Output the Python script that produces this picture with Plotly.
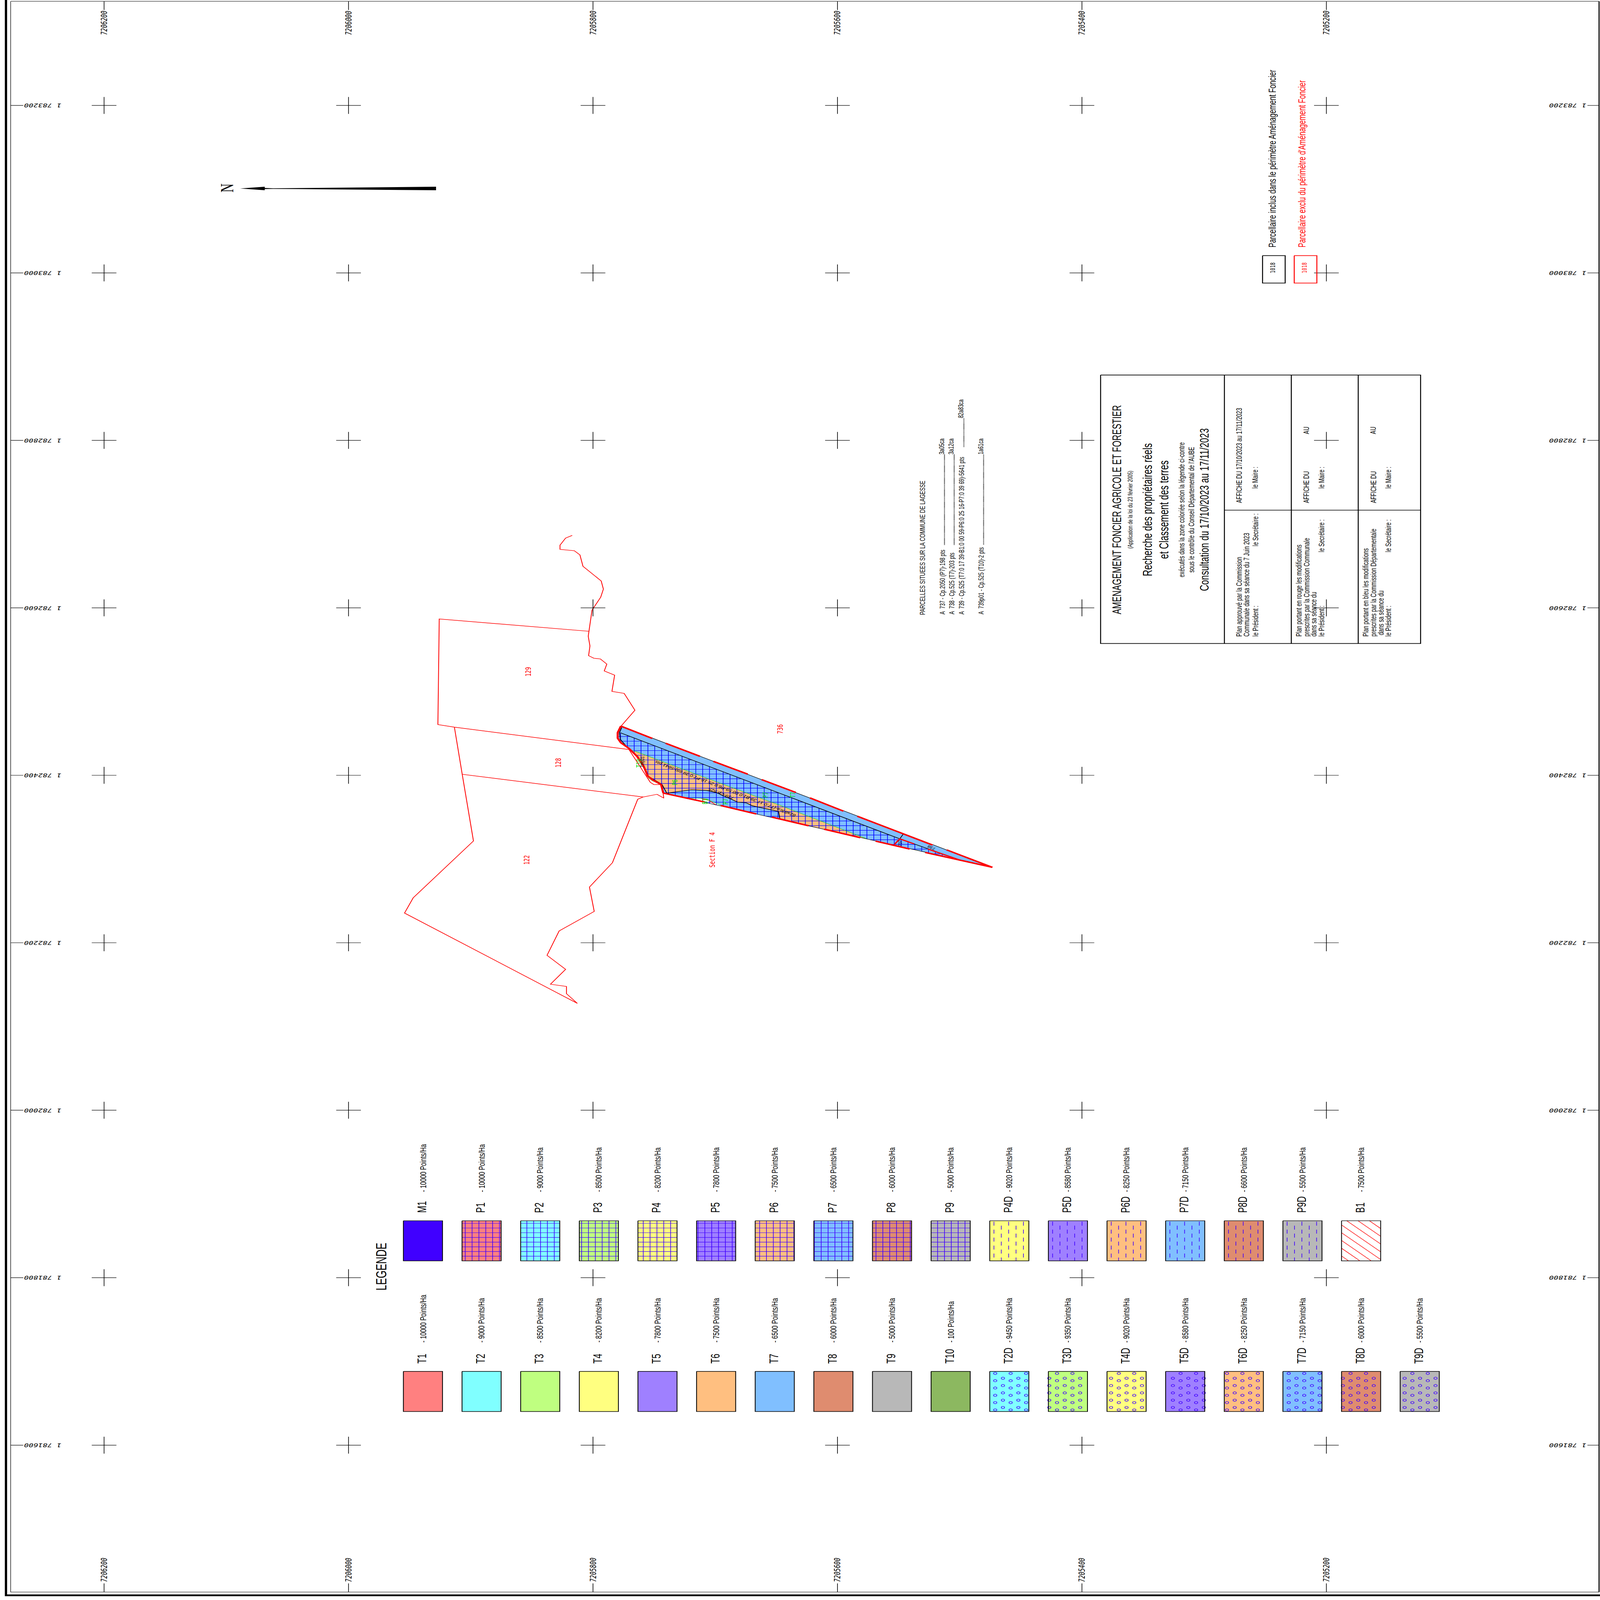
import plotly.graph_objects as go

# ---------------- survey grid (Lambert metres) ----------------
GRID_N = [7206200, 7206000, 7205800, 7205600, 7205400, 7205200]
GRID_E = [1783200, 1783000, 1782800, 1782600, 1782400, 1782200, 1782000, 1781800, 1781600]

# ---------------- parcels, read from the plan (northing / easting, metres) ----------------
RIVER_N = [7205817.0, 7205822.4, 7205827.0, 7205827.0, 7205815.3, 7205810.7, 7205808.2, 7205793.3, 7205791.5,
           7205793.7, 7205800.8, 7205803.2, 7205803.9, 7205802.5, 7205803.6, 7205799.3, 7205794.0, 7205788.7,
           7205790.8, 7205782.3, 7205784.5, 7205774.5, 7205765.7, 7205777.4]
RIVER_E = [1782686.5, 1782683.3, 1782674.8, 1782669.8, 1782668.2, 1782663.2, 1782649.6, 1782632.1, 1782622.4,
           1782612.7, 1782597.2, 1782572.0, 1782566.1, 1782554.5, 1782542.9, 1782539.8, 1782539.0, 1782532.8,
           1782524.6, 1782519.6, 1782500.2, 1782497.8, 1782477.7, 1782458.2]
P129_N = [7205803.2, 7205925.8, 7205926.9, 7205913.4, 7205770.6]
P129_E = [1782572.0, 1782586.7, 1782460.6, 1782457.5, 1782430.8]
P128_N = [7205913.4, 7205907.0, 7205759.0]
P128_E = [1782457.5, 1782401.2, 1782374.1]
P122_N = [7205907.0, 7205897.8, 7205947.1, 7205954.2, 7205812.8, 7205821.7, 7205821.7, 7205834.8, 7205822.4,
          7205837.6, 7205827.7, 7205799.0, 7205802.9, 7205784.1, 7205763.4, 7205759.0, 7205747.6, 7205742.1,
          7205742.7]
P122_E = [1782401.2, 1782321.6, 1782253.7, 1782235.5, 1782127.6, 1782139.2, 1782147.8, 1782150.5, 1782168.3,
          1782185.0, 1782214.1, 1782237.4, 1782266.5, 1782295.6, 1782371.4, 1782374.1, 1782377.3, 1782372.7,
          1782378.8]
BANK_N = [7205770.6, 7205756.3, 7205753.1, 7205750.2, 7205743.6]
BANK_E = [1782430.8, 1782398.4, 1782391.6, 1782388.9, 1782388.9]

WEST_N = [7205777.2, 7205779.8, 7205779.8, 7205777.2, 7205770.6, 7205764.0, 7205758.5, 7205755.2, 7205750.9,
          7205744.3, 7205742.5]
WEST_E = [1782458.7, 1782451.0, 1782444.3, 1782438.9, 1782432.1, 1782422.7, 1782410.5, 1782399.1, 1782394.3,
          1782388.9, 1782378.8]
TIP_N = [7205473.3, 7205500.7]
TIP_E = [1782290.1, 1782299.2]

# thick red runs along the north and south edges of the parcel (pairs: start, end)
RED_NORTH_N = [7205777.2, 7205751.5, 7205740.5, 7205712.5, 7205701.5, 7205673.4, 7205662.0, 7205634.1, 7205622.5,
               7205595.1, 7205583.7, 7205522.2, 7205510.6, 7205473.3]
RED_NORTH_E = [1782458.7, 1782444.0, 1782438.2, 1782422.7, 1782416.6, 1782401.4, 1782394.8, 1782379.5, 1782373.0,
               1782357.2, 1782351.1, 1782316.7, 1782310.9, 1782290.1]
RED_SOUTH_N = [7205742.5, 7205708.5, 7205695.6, 7205666.4, 7205653.7, 7205623.6, 7205610.9, 7205581.3, 7205568.8,
               7205540.9, 7205528.2, 7205473.3]
RED_SOUTH_E = [1782378.8, 1782368.0, 1782364.0, 1782353.8, 1782350.1, 1782339.7, 1782335.6, 1782325.5, 1782321.4,
               1782312.0, 1782307.9, 1782290.1]
RED_737_N = [7205553.4, 7205549.0, 7205537.4]
RED_737_E = [1782317.4, 1782324.1, 1782318.1]
RED_738_N = [7205526.0, 7205500.7]
RED_738_E = [1782312.0, 1782299.2]

INNER_N = [7205777.6, 7205549.0, 7205500.7]
INNER_E = [1782450.8, 1782324.1, 1782299.2]
DIV_N = [7205549.0, 7205546.2]
DIV_E = [1782324.1, 1782329.8]
INWEST_N = [7205776.5, 7205778.3, 7205777.6, 7205772.8, 7205763.4, 7205758.1, 7205754.6, 7205743.6, 7205739.7]
INWEST_E = [1782457.1, 1782451.0, 1782442.9, 1782434.8, 1782422.7, 1782410.5, 1782398.7, 1782389.2, 1782378.8]

P6_N = [7205767.3, 7205715.8, 7205645.5, 7205576.4, 7205580.8, 7205623.6, 7205647.1, 7205648.2, 7205669.7, 7205674.7,
        7205681.7, 7205699.3, 7205707.0, 7205719.5, 7205739.2, 7205742.1, 7205743.6, 7205754.6, 7205758.1, 7205763.4]
P6_E = [1782429.7, 1782401.4, 1782363.3, 1782324.4, 1782325.5, 1782339.7, 1782347.8, 1782356.8, 1782363.6, 1782367.1,
        1782368.0, 1782379.5, 1782381.9, 1782382.7, 1782378.8, 1782384.9, 1782389.2, 1782398.7, 1782410.5, 1782422.7]
P6_LOW_N = P6_N[6:15]
P6_LOW_E = P6_E[6:15]
T10_N = [7205754.6, 7205743.6, 7205744.1, 7205751.5, 7205755.2]
T10_E = [1782398.7, 1782389.2, 1782388.7, 1782393.0, 1782397.0]
B1_N = [7205719.5, 7205708.1, 7205694.9, 7205708.5, 7205719.5]
B1_E = [1782372.7, 1782372.1, 1782364.0, 1782368.0, 1782371.3]
GREEN_N = [7205767.3, 7205715.8, 7205645.5, 7205576.4]
GREEN_E = [1782429.7, 1782401.4, 1782363.3, 1782324.4]
GREEN_B1_N = [7205719.5, 7205708.1, 7205694.9]
GREEN_B1_E = [1782372.7, 1782372.1, 1782364.0]
RED_B1_N = [7205711.4, 7205705.9, 7205699.3]
RED_B1_E = [1782372.1, 1782370.7, 1782364.6]
HATCH_N = [7205777.6, 7205549.0, 7205513.9, 7205510.6, 7205742.5, 7205744.3, 7205755.2, 7205758.5, 7205764.0,
           7205770.6, 7205777.2, 7205779.8]
HATCH_E = [1782450.8, 1782324.1, 1782305.2, 1782302.4, 1782378.8, 1782388.9, 1782399.1, 1782410.5, 1782422.7,
           1782432.1, 1782438.9, 1782444.3]

# ---------------- legend ----------------
LEG_TOP_CODES = ["M1", "P1", "P2", "P3", "P4", "P5", "P6", "P7", "P8", "P9", "P4D", "P5D", "P6D", "P7D", "P8D", "P9D", "B1"]
LEG_TOP_POINTS = [10000, 10000, 9000, 8500, 8200, 7800, 7500, 6500, 6000, 5000, 9020, 8580, 8250, 7150, 6600, 5500, 7500]
LEG_LOW_CODES = ["T1", "T2", "T3", "T4", "T5", "T6", "T7", "T8", "T9", "T10", "T2D", "T3D", "T4D", "T5D", "T6D", "T7D", "T8D", "T9D"]
LEG_LOW_POINTS = [10000, 9000, 8500, 8200, 7800, 7500, 6500, 6000, 5000, 100, 9450, 9350, 9020, 8580, 8250, 7150, 6000, 5500]
CLASS_NUM = ["1", "2", "3", "4", "5", "6", "7", "8", "9", "10"]
CLASS_COLOR = ["#FF8080", "#80FFFF", "#BFFF80", "#FFFF80", "#9F80FF", "#FFBF80", "#80BFFF", "#DF8C6F", "#B8B8B8", "#8CB860"]

# ---------------- texts ----------------
LIST_TEXTS = ["A  737 - Cp.2050 (P7)-198 pts", "A  738 - Cp.525 (T7)-203 pts",
              "A  739 - Cp.525 (T7:0 17 39-B1:0 00 59-P6:0 25 16-P7:0 39 69)-5641 pts",
              "A  739p01 - Cp.525 (T10)-2 pts"]
LIST_AREAS = ["3a05ca", "3a12ca", "82a83ca", "1a61ca"]

# ---------------- sheet layout ----------------
W, H = 4950, 7223
SX0, SY0, SCX, SCY = 322.0, 476.0, 3.7815, 3.78
PATTERN = "#4000FF"
SANS, MONO, SERIF = "Liberation Sans", "DejaVu Sans Mono", "Liberation Serif"


def sx(n):
    return SX0 + (GRID_N[0] - n) * SCX


def sy(e):
    return SY0 + (GRID_E[0] - e) * SCY


fig = go.Figure()
annots = []


def poly(xs, ys, fill, line="black", width=0, sheet=False):
    fig.add_trace(go.Scatter(x=list(xs) + [xs[0]], y=list(ys) + [ys[0]], mode="lines", fill="toself", fillcolor=fill,
                             line=dict(color=line, width=width), hoverinfo="skip", showlegend=False,
                             xaxis="x2" if sheet else "x", yaxis="y2" if sheet else "y"))


def line(xs, ys, color="black", width=2, sheet=False, dash=None):
    fig.add_trace(go.Scatter(x=xs, y=ys, mode="lines", line=dict(color=color, width=width, dash=dash), hoverinfo="skip",
                             showlegend=False, connectgaps=False,
                             xaxis="x2" if sheet else "x", yaxis="y2" if sheet else "y"))


def pairs(ns, es):
    xs, ys = [], []
    for i in range(0, len(ns) - 1, 2):
        xs += [ns[i], ns[i + 1], None]
        ys += [es[i], es[i + 1], None]
    return xs, ys


def note(text, x, y, size, angle=-90, color="black", font=SANS, xa="center", ya="bottom", style="normal"):
    annots.append(dict(text=text, x=x, y=y, xref="x2", yref="y2", showarrow=False, textangle=angle, xanchor=xa,
                       yanchor=ya, borderpad=0, font=dict(family=font, size=size, color=color, style=style)))


def spans(c, a_pts, b_pts):
    """Pieces of the line a=c that lie inside the polygon (a_pts, b_pts)."""
    cuts = []
    m = len(a_pts)
    for i in range(m):
        a1, b1, a2, b2 = a_pts[i], b_pts[i], a_pts[(i + 1) % m], b_pts[(i + 1) % m]
        if (a1 <= c) != (a2 <= c):
            cuts.append(b1 + (c - a1) * (b2 - b1) / (a2 - a1))
    cuts.sort()
    return [(cuts[i], cuts[i + 1]) for i in range(0, len(cuts) - 1, 2)]


# ---- parcel fills ----
tri_n = WEST_N[::-1] + [WEST_N[0]] + TIP_N[:1] + TIP_N[1:]
tri_e = WEST_E[::-1] + [WEST_E[0]] + TIP_E[:1] + TIP_E[1:]
poly(tri_n, tri_e, CLASS_COLOR[6])
poly(P6_N, P6_E, CLASS_COLOR[5])
poly(T10_N, T10_E, CLASS_COLOR[9])
poly(B1_N, B1_E, "white")

# ---- cultivated-land grid, clipped to the parcel ----
STEP_M = 5.6
hx, hy = [], []
n = 7205771.9 + 12 * STEP_M
while n > min(HATCH_N):
    for a, b in spans(n, HATCH_N, HATCH_E):
        hx += [n, n, None]
        hy += [a, b, None]
    n -= STEP_M
e = 1782446.3 + 3 * STEP_M
while e > min(HATCH_E):
    for a, b in spans(e, HATCH_E, HATCH_N):
        hx += [a, b, None]
        hy += [e, e, None]
    e -= STEP_M
line(hx, hy, "#0000FF", 2)

# ---- thin lines ----
for ns, es in [(RIVER_N, RIVER_E), (P129_N, P129_E), (P128_N, P128_E), (P122_N, P122_E), (BANK_N, BANK_E), (RED_B1_N, RED_B1_E)]:
    line(ns, es, "#FF0000", 2.5)
line(GREEN_N, GREEN_E, "#00DD00", 1.5)
line(GREEN_B1_N, GREEN_B1_E, "#00DD00", 1.5)
line(tri_n + [tri_n[0]], tri_e + [tri_e[0]], "black", 2)
line(INNER_N, INNER_E, "black", 2.5)
line(DIV_N, DIV_E, "black", 2.5)
line(INWEST_N, INWEST_E, "black", 2.5)
line(P6_LOW_N, P6_LOW_E, "black", 2.5)

# ---- thick red runs ----
line(WEST_N, WEST_E, "#FF0000", 6.5)
x_, y_ = pairs(RED_NORTH_N, RED_NORTH_E)
line(x_, y_, "#FF0000", 6.5)
x_, y_ = pairs(RED_SOUTH_N, RED_SOUTH_E)
line(x_, y_, "#FF0000", 6.5)
line(RED_737_N, RED_737_E, "#FF0000", 5)
line(RED_738_N, RED_738_E, "#FF0000", 5)

# ---- grid crosses ----
ARM_M = 10.1
cx, cy = [], []
for n in GRID_N:
    for e in GRID_E:
        cx += [n - ARM_M, n + ARM_M, None, n, n, None]
        cy += [e, e, None, e - ARM_M, e + ARM_M, None]
line(cx, cy, "black", 2)

# ---- frame and edge ticks ----
FL, FT, FR, FB = 33, 6, 4947, 7187
line([FL, FR, FR, FL, FL], [FT, FT, FB, FB, FT], "#333333", 2, sheet=True)
line([FR, FR], [FT, FB], "black", 3, sheet=True)
poly([15, 22, 22, W, W, 15], [0, 0, 7198, 7198, 7206, 7206], "black", sheet=True)
tx, ty = [], []
for n in GRID_N:
    tx += [sx(n), sx(n), None, sx(n), sx(n), None]
    ty += [FT, 45, None, 7148, FB, None]
    note(str(n), sx(n), 103, 26, font=MONO, ya="middle", style="italic")
    note(str(n), sx(n), 7087, 26, font=MONO, ya="middle", style="italic")
for e in GRID_E:
    tx += [FL, 72, None, 4911, FR, None]
    ty += [sy(e), sy(e), None, sy(e), sy(e), None]
    label = f"{str(e)[0]} {str(e)[1:]}"
    note(label, 132, sy(e), 24, angle=180, font=MONO, ya="middle", style="italic")
    note(label, 4850, sy(e), 24, angle=180, font=MONO, ya="middle", style="italic")
line(tx, ty, "black", 2, sheet=True)

# ---- north arrow ----
poly([743, 819, 819, 845, 1349, 1349, 845, 819, 819], [851, 843, 848.5, 850, 843, 859, 852.5, 853.5, 859], "black", sheet=True)
note("N", 702, 849, 56, font=SERIF, ya="middle")

# ---- legend ----
SW_X0, SW_W, SW_STEP = 1248.0, 121.0, 181.4
TOP_Y0, TOP_Y1 = 5511, 5692
LOW_Y0, LOW_Y1 = 6191, 6372


def class_color(code):
    if code == "M1":
        return PATTERN
    if code == "B1":
        return "#FFFFFF"
    digits = code[1:].rstrip("D")
    return CLASS_COLOR[CLASS_NUM.index(digits)]


def grid_pattern(x0, x1, y0, y1):
    xs, ys = [], []
    v = 1460.5 + 21.18 * ((x0 - 1460.5) // 21.18 + 1)
    while v < x1:
        xs += [v, v, None]
        ys += [y0, y1, None]
        v += 21.18
    h = 5543.8 - 21.2
    while h < y1:
        if h > y0:
            xs += [x0, x1, None]
            ys += [h, h, None]
        h += 21.2
    line(xs, ys, PATTERN, 2, sheet=True)


def dash_pattern(x0, x1, y0, y1):
    xs, ys = [], []
    k = 0
    v = x0 + 13
    while v < x1:
        s = y0 + 4 + (18 if k % 2 else 0)
        while s < y1:
            xs += [v, v, None]
            ys += [s, min(s + 18, y1), None]
            s += 36
        v += 22.8
        k += 1
    line(xs, ys, PATTERN, 2, sheet=True)


def hex_pattern(x0, x1, y0, y1):
    xs, ys = [], []
    k = int((x0 - 4011) // 23.9) + 1
    v = 4011 + 23.9 * k
    while v < x1:
        s = 6354 + (11 if k % 2 else 0)
        while s > y0:
            xs.append(v)
            ys.append(s)
            s -= 33
        k += 1
        v += 23.9
    fig.add_trace(go.Scatter(x=xs, y=ys, mode="markers", xaxis="x2", yaxis="y2", hoverinfo="skip", showlegend=False,
                             marker=dict(symbol="hexagon-open", size=11, color=PATTERN, line=dict(width=2, color=PATTERN))))


def hatch_pattern(x0, x1, y0, y1):
    xs, ys = [], []
    c = y0 - x1
    while c < y1 - x0:
        c += 35
        a0 = max(x0, y0 - c)
        a1 = min(x1, y1 - c)
        if a1 > a0:
            xs += [a0, a1, None]
            ys += [a0 + c, a1 + c, None]
    line(xs, ys, "#FF0000", 2, sheet=True)


def swatch(code, points, i, y0, y1, code_y, desc_y):
    x0 = SW_X0 + i * SW_STEP
    x1 = x0 + SW_W
    poly([x0, x1, x1, x0], [y0, y0, y1, y1], class_color(code), sheet=True)
    if code == "B1":
        hatch_pattern(x0, x1, y0, y1)
    elif code.startswith("P") and code.endswith("D"):
        dash_pattern(x0, x1, y0, y1)
    elif code.startswith("T") and code.endswith("D"):
        hex_pattern(x0, x1, y0, y1)
    elif code.startswith("P"):
        grid_pattern(x0, x1, y0, y1)
    line([x0, x1, x1, x0, x0], [y0, y0, y1, y1, y0], "black", 2.5, sheet=True)
    cx_ = (x0 + x1) / 2
    note(code, cx_ - 3, code_y, 38)
    note(f"- {points} Points/Ha", cx_, desc_y, 27)


for i, (c, p) in enumerate(zip(LEG_TOP_CODES, LEG_TOP_POINTS)):
    swatch(c, p, i, TOP_Y0, TOP_Y1, 5476, 5382)
for i, (c, p) in enumerate(zip(LEG_LOW_CODES, LEG_LOW_POINTS)):
    swatch(c, p, i, LOW_Y0, LOW_Y1, 6157, 6062)
note("LEGENDE", 1180, 5827, 45)

# ---- title block ----
BX0, BX1, BY0, BY1 = 3405, 4395, 1693, 2905
COLS = [3788, 3995, 4202]
ROW = 2303
bx = [BX0, BX1, BX1, BX0, BX0, None]
by = [BY0, BY0, BY1, BY1, BY0, None]
for c in COLS:
    bx += [c, c, None]
    by += [BY0, BY1, None]
bx += [COLS[0], BX1]
by += [ROW, ROW]
line(bx, by, "black", 3, sheet=True)
CY = 2301
note("AMENAGEMENT FONCIER AGRICOLE ET FORESTIER", 3455, CY, 37, ya="middle")
note("(Application de la loi du 23 février 2005)", 3497, CY, 20, ya="middle")
note("Recherche des propriétaires réels", 3550, CY, 40, ya="middle")
note("et Classement des terres", 3601, CY, 40, ya="middle")
note("exécutés dans la zone coloriée selon la légende ci-contre", 3655, CY, 24, ya="middle")
note("sous le contrôle du Conseil Départemental de l'AUBE", 3685, CY, 24, ya="middle")
note("Consultation du 17/10/2023 au 17/11/2023", 3725, CY, 39, ya="middle")
C = 24
for txt, x, y in [
    ("Plan approuvé par la Commission", 3833, 2875), ("Communale dans sa séance du 7 Juin 2023", 3856, 2875),
    ("le Président :", 3883, 2875), ("le Secrétaire :", 3883, 2467),
    ("AFFICHE DU 17/10/2023 au 17/11/2023", 3833, 2272), ("le Maire :", 3883, 2207),
    ("Plan portant en rouge les modifications", 4018, 2875), ("prescrites par la Commission Communale", 4042, 2875),
    ("dans sa séance du", 4064, 2875), ("le Président :", 4088, 2875), ("le Secrétaire :", 4088, 2494),
    ("AFFICHE DU", 4041, 2272), ("AU", 4041, 1961), ("le Maire :", 4088, 2207),
    ("Plan portant en bleu les modifications", 4225, 2875), ("prescrites par la Commission Départementale", 4249, 2875),
    ("dans sa séance du", 4272, 2869), ("le Président :", 4295, 2875), ("le Secrétaire :", 4295, 2494),
    ("AFFICHE DU", 4248, 2272), ("AU", 4248, 1961), ("le Maire :", 4295, 2207),
]:
    note(txt, x, y, C)

# ---- parcel list ----
note("PARCELLES SITUEES SUR LA COMMUNE DE LAGESSE", 2853, 2778, 23)
LIST_X = [2915, 2945, 2975, 3036]
DOT_Y = [(2460, 2051), (2460, 2051), (2018, 1887), (2458, 2051)]
for txt, area, x, (d0, d1) in zip(LIST_TEXTS, LIST_AREAS, LIST_X, DOT_Y):
    note(txt, x, 2775, 22)
    note(area, x - 2, d1 + 2, 22)
    line([x + 7, x + 7], [d0, d1], "black", 3, sheet=True, dash="2px,2px")

# ---- perimeter key ----
note("Parcellaire inclus dans le périmètre Aménagement Foncier", 3937, 1119, 31)
note("Parcellaire exclu du périmètre d'Aménagement Foncier", 4028, 1119, 31, color="#FF0000")
line([3906, 3976, 3976, 3906, 3906], [1154, 1154, 1278, 1278, 1154], "black", 3, sheet=True)
line([4004, 4074, 4074, 4004, 4004], [1154, 1154, 1278, 1278, 1154], "#FF0000", 3, sheet=True)
note("1018", 3937, 1209, 20, font=MONO, ya="middle")
note("1018", 4036, 1209, 20, font=MONO, ya="middle", color="#FF0000")

# ---- labels on the plan ----
RED_MONO = dict(font=MONO, ya="middle", color="#FF0000")
note("129", 1634, 3033, 24, **RED_MONO)
note("128", 1728, 3444, 24, **RED_MONO)
note("122", 1630, 3883, 24, **RED_MONO)
note("736", 2414, 3292, 24, **RED_MONO)
note("Section F 4", 2204, 3837, 24, **RED_MONO)
GREEN_MONO = dict(font=MONO, ya="middle", color="#00DD00")
note("P6", 2088, 3532, 22, **GREEN_MONO)
note("P7", 2368, 3589, 22, **GREEN_MONO)
note("T7", 2453, 3589, 22, **GREEN_MONO)
note("P7", 2245, 3619, 22, **GREEN_MONO)
note("B1", 2180, 3618, 22, **GREEN_MONO)
note("T10", 1976, 3445, 22, **GREEN_MONO)
note("739p01", 1987, 3440, 15, ya="middle")
note("737", 2784, 3807, 16, ya="middle")
note("738", 2882, 3827, 16, angle=-150, ya="middle")
note("82a83ca-(T7:0 17 39-B1:0 00 59-P6:0 25 16-P7:0 39 69)-5641 pts", 2244, 3561, 17, angle=-150.5, ya="middle")
note("739-Cp:525", 2231, 3583, 17, angle=-150.5, ya="middle")

hidden = dict(visible=False, showgrid=False, zeroline=False, fixedrange=True)
fig.update_layout(
    width=W, height=H, margin=dict(l=0, r=0, t=0, b=0), autosize=False,
    paper_bgcolor="white", plot_bgcolor="white", showlegend=False, annotations=annots,
    xaxis=dict(range=[GRID_N[0] + SX0 / SCX, GRID_N[0] - (W - SX0) / SCX], **hidden),
    yaxis=dict(range=[GRID_E[0] - (H - SY0) / SCY, GRID_E[0] + SY0 / SCY], **hidden),
    xaxis2=dict(range=[0, W], overlaying="x", **hidden),
    yaxis2=dict(range=[H, 0], overlaying="y", **hidden),
)
# The sheet is laid out at 4950x7223; if the browser window is smaller, scale the page to fit the window.
FIT = f"""
document.body.style.margin='0';
var g=document.querySelector('.plotly-graph-div');
var fx=window.innerWidth/{W}, fy=window.innerHeight/{H};
if(fx<1||fy<1){{
  g.style.transformOrigin='0 0';
  g.style.transform='scale('+Math.min(fx,1)+','+Math.min(fy,1)+')';
  document.documentElement.style.overflow='hidden';
  document.body.style.overflow='hidden';
}}
"""
fig.write_html("out.html", config={"displayModeBar": False}, post_script=FIT)
